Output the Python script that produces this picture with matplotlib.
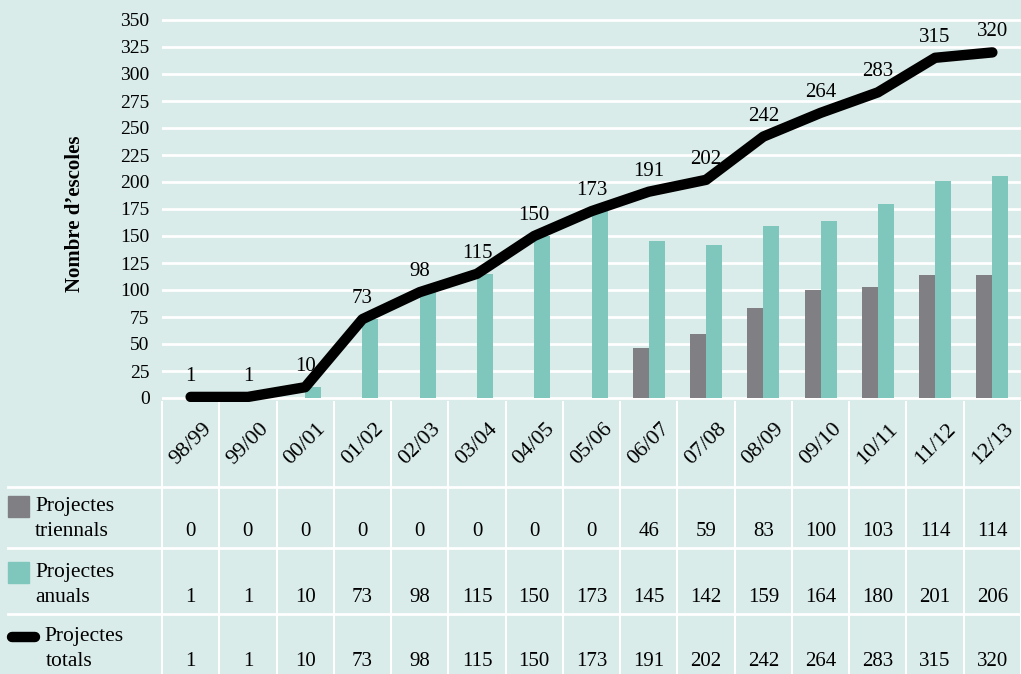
import matplotlib.pyplot as plt
import matplotlib.transforms as mtransforms
import numpy as np

cursos = ['98/99', '99/00', '00/01', '01/02', '02/03', '03/04', '04/05', '05/06',
          '06/07', '07/08', '08/09', '09/10', '10/11', '11/12', '12/13']
triennals = [0, 0, 0, 0, 0, 0, 0, 0, 46, 59, 83, 100, 103, 114, 114]
anuals = [1, 1, 10, 73, 98, 115, 150, 173, 145, 142, 159, 164, 180, 201, 206]
totals = [1, 1, 10, 73, 98, 115, 150, 173, 191, 202, 242, 264, 283, 315, 320]
yticks = list(range(0, 351, 25))

bg = '#d9ecea'
teal = '#7fc6bc'
gray = '#808084'
W, H = 1021, 674

plt.rcParams['font.family'] = ['Liberation Serif', 'DejaVu Serif']

fig = plt.figure(figsize=(W / 100, H / 100), dpi=100, facecolor=bg)

# main chart area (pixel layout)
ylo, yhi = -4, 355
px_per = 378 / 350
bot = 398 + (0 - ylo) * px_per
top = bot - (yhi - ylo) * px_per
ax = fig.add_axes([162 / W, 1 - bot / H, (W - 162) / W, (bot - top) / H])
ax.set_facecolor(bg)
x = np.arange(len(cursos))
bw = 0.28

for yv in yticks:
    ax.axhline(yv, color='white', lw=2, zorder=0)

ax.bar(x - bw / 2, triennals, width=bw, color=gray, zorder=2)
ax.bar(x + bw / 2, anuals, width=bw, color=teal, zorder=2)
ax.plot(x, totals, color='black', lw=7.5, solid_capstyle='round',
        solid_joinstyle='round', zorder=3)
for xi, v in zip(x, totals):
    ax.annotate(str(v), (xi, v), xytext=(0, 8), textcoords='offset points',
                ha='center', va='bottom', fontsize=15, zorder=4)

ax.set_xlim(-0.5, len(cursos) - 0.5)
ax.set_ylim(ylo, yhi)
ax.set_yticks(yticks)
ax.set_yticklabels([str(v) for v in yticks], fontsize=14)
ax.tick_params(axis='y', length=0, pad=9)
ax.set_xticks([])
for s in ax.spines.values():
    s.set_visible(False)
fig.text(75 / W, 1 - 214 / H, 'Nombre d\u2019escoles', rotation=90,
         ha='center', va='center', fontsize=15, fontweight='bold')

# table below the chart
tr = mtransforms.blended_transform_factory(ax.transData, fig.transFigure)


def fy(py):
    return 1 - py / H


for i in range(len(cursos) + 1):
    ax.plot([i - 0.5, i - 0.5], [fy(402), fy(H)], transform=tr, color='white',
            lw=1.5, clip_on=False, zorder=1)
for py in [487, 548, 614]:
    fig.add_artist(plt.Line2D([8 / W, 1], [fy(py), fy(py)], color='white', lw=2))

for xi, c in zip(x, cursos):
    ax.text(xi, fy(444), c, transform=tr, rotation=45, ha='center', va='center',
            fontsize=16, rotation_mode='anchor')

rows = [(triennals, 531), (anuals, 598), (totals, 661)]
for vals, py in rows:
    for xi, v in zip(x, vals):
        ax.text(xi, fy(py), str(v), transform=tr, ha='center', va='center',
                fontsize=15)

# row labels with legend keys
fig.add_artist(plt.Rectangle((8 / W, fy(517)), 21 / W, 21 / H, color=gray))
fig.add_artist(plt.Rectangle((8 / W, fy(583)), 21 / W, 21 / H, color=teal))
fig.add_artist(plt.Line2D([12 / W, 35 / W], [fy(637), fy(637)], color='black',
                          lw=7.5, solid_capstyle='round'))
fig.text(35 / W, fy(506), 'Projectes', ha='left', va='center', fontsize=15.5)
fig.text(35 / W, fy(531), 'triennals', ha='left', va='center', fontsize=15.5)
fig.text(35 / W, fy(572), 'Projectes', ha='left', va='center', fontsize=15.5)
fig.text(35 / W, fy(598), 'anuals', ha='left', va='center', fontsize=15.5)
fig.text(44 / W, fy(637), 'Projectes', ha='left', va='center', fontsize=15.5)
fig.text(46 / W, fy(661), 'totals', ha='left', va='center', fontsize=15.5)

fig.savefig('out.png', dpi=100, facecolor=bg)
